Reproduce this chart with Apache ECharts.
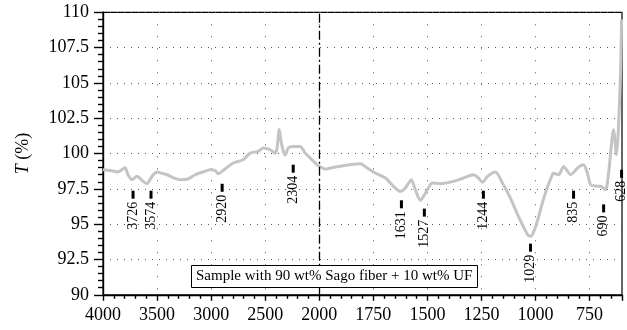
<!DOCTYPE html>
<html>
<head>
<meta charset="utf-8">
<script src="https://cdn.jsdelivr.net/npm/echarts@6/dist/echarts.min.js"></script>
<style>html,body{margin:0;padding:0;background:#fff}#c{width:627px;height:330px}</style>
</head>
<body>
<div id="c"></div>
<script>
// Wavenumbers (cm^-1) and transmittance (%)
const wavenumbers = [4000,3935,3861,3796,3769,3731,3685,3630,3593,3546,3500,3454,3407,3352,3287,3213,3148,3074,3009,2963,2935,2889,2796,2704,2639,2565,2519,2454,2407,2390,2370,2352,2330,2315,2287,2241,2176,2130,2083,2019,2000,1972,1926,1866,1810,1778,1741,1694,1657,1625,1602,1574,1556,1532,1518,1500,1477,1440,1380,1333,1287,1264,1245,1222,1185,1153,1116,1079,1037,1023,1010,990,970,950,930,917,893,870,838,805,778,760,745,720,699,676,662,639,625,616,606,602];
const transmittance = [98.86,98.8,98.7,99.0,98.5,98.15,98.4,98.03,97.87,98.4,98.7,98.6,98.5,98.3,98.15,98.2,98.5,98.7,98.85,98.8,98.57,98.8,99.33,99.56,100.03,100.15,100.39,100.27,100.03,100.4,101.7,100.8,100.1,99.9,100.39,100.5,100.5,100.03,99.68,99.2,99.1,98.9,99.05,99.19,99.28,98.98,98.62,98.27,97.68,97.32,97.56,98.15,97.44,96.69,96.97,97.44,97.91,97.87,98.03,98.27,98.5,98.27,97.96,98.38,98.69,97.91,96.85,95.55,94.26,94.14,94.4,95.3,96.4,97.4,98.2,98.6,98.5,99.09,98.5,98.98,99.2,98.6,97.79,97.7,97.68,97.44,98.62,101.68,99.91,101.92,106.16,109.5];

// Band annotations: drawn position (cm^-1), marker top (%), label
const annotX = [3722,3556,2898,2241,1620,1514,1241,1023,824,685,602];
const annotY = [97.37,97.37,97.86,99.21,96.69,96.1,97.37,93.62,97.37,96.4,98.85];
const annotLabels = ['3726','3574','2920','2304','1631','1527','1244','1029','835','690','628'];

// Axis tick values
const xTickLabels = [4000,3500,3000,2500,2000,1750,1500,1250,1000,750];
const yTicks = [90,92.5,95,97.5,100,102.5,105,107.5,110];
const legendText = 'Sample with 90 wt% Sago fiber + 10 wt% UF';

// Split-scale wavenumber axis: 500 cm^-1 per unit above 2000, 250 cm^-1 per unit below
function pos(w){ return w >= 2000 ? (4000 - w) / 500 : 4 + (2000 - w) / 250; }

const FONT = '"Liberation Serif", "Times New Roman", serif';
const lineData = wavenumbers.map((w, i) => [pos(w), transmittance[i]]);
const annotData = annotX.map((w, i) => [pos(w), annotY[i]]);

const chart = echarts.init(document.getElementById('c'), null, {renderer: 'canvas'});
chart.setOption({
  animation: false,
  backgroundColor: '#fff',
  title: {
    text: legendText,
    left: 191, top: 265,
    padding: [4, 5, 4, 5],
    borderColor: '#000', borderWidth: 1,
    backgroundColor: '#fff',
    textStyle: {fontFamily: FONT, fontSize: 15, fontWeight: 'normal', color: '#000'}
  },
  grid: {left: 103, top: 12.3, width: 519, height: 282.5, show: true, borderColor: '#000', borderWidth: 1.2, backgroundColor: 'transparent'},
  xAxis: {
    type: 'value', min: 0, max: pos(600), interval: 1,
    axisLine: {show: true, lineStyle: {color: '#000', width: 1.4}},
    axisTick: {show: true, length: 6, inside: false, lineStyle: {color: '#000', width: 1.4}},
    minorTick: {show: true, splitNumber: 5, length: 4, lineStyle: {color: '#000', width: 1.4}},
    axisLabel: {
      color: '#000', fontFamily: FONT, fontSize: 18, margin: 11, showMaxLabel: false,
      formatter: function(v){ const i = Math.round(v); return (Math.abs(v - i) < 1e-6 && i < xTickLabels.length) ? String(xTickLabels[i]) : ''; }
    },
    splitLine: {show: true, lineStyle: {color: '#555', type: [1, 11], width: 1}}
  },
  yAxis: {
    type: 'value', min: yTicks[0], max: yTicks[yTicks.length - 1], interval: 2.5,
    name: '{i|T} (%)', nameLocation: 'middle', nameGap: 71,
    nameTextStyle: {fontFamily: FONT, fontSize: 18, color: '#000', rich: {i: {fontFamily: FONT, fontSize: 18, fontStyle: 'italic', color: '#000'}}},
    axisLine: {show: true, lineStyle: {color: '#000', width: 1.4}},
    axisTick: {show: true, length: 9, lineStyle: {color: '#000', width: 1.4}},
    minorTick: {show: true, splitNumber: 5, length: 5, lineStyle: {color: '#000', width: 1.4}},
    axisLabel: {color: '#000', fontFamily: FONT, fontSize: 18, margin: 14},
    splitLine: {show: true, lineStyle: {color: '#555', type: [1, 6], width: 1}}
  },
  series: [
    {
      type: 'line', data: lineData, symbol: 'none', smooth: 0.25,
      lineStyle: {color: '#c4c4c4', width: 3},
      z: 3,
      markLine: {
        silent: true, symbol: 'none', label: {show: false},
        lineStyle: {color: '#000', type: [9, 3, 2, 3], width: 1.3},
        data: [{xAxis: pos(2000)}]
      }
    },
    {
      type: 'custom', data: annotData, z: 5, clip: false,
      renderItem: function(params, api){
        const pt = api.coord([api.value(0), api.value(1)]);
        const label = annotLabels[params.dataIndex];
        return {type: 'group', children: [
          {type: 'rect', shape: {x: pt[0] - 1.5, y: pt[1], width: 3, height: 8}, style: {fill: '#000'}},
          {type: 'text', x: pt[0], y: pt[1] + 11, rotation: Math.PI / 2,
           style: {text: label, align: 'right', verticalAlign: 'middle', font: '14px ' + FONT, fill: '#000'}}
        ]};
      }
    }
  ]
});
</script>
</body>
</html>
